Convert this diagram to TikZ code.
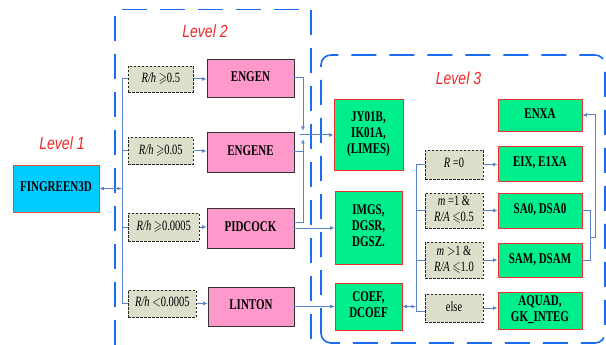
\documentclass[tikz,border=0pt]{standalone}
\usepackage{fontspec}
\usepackage{amssymb}
\setmainfont{Liberation Serif}
\newfontfamily\handfont{Liberation Sans}
\usetikzlibrary{arrows.meta,calc}
\definecolor{cyanfill}{HTML}{00CCFF}
\definecolor{cyanline}{HTML}{E0502A}
\definecolor{pinkfill}{HTML}{FF99CC}
\definecolor{greenfill}{HTML}{00EE8C}
\definecolor{greenline}{HTML}{F03030}
\definecolor{condfill}{HTML}{DCE0CB}
\definecolor{linkblue}{HTML}{5B84C8}
\definecolor{lvblue}{HTML}{1A6CF0}
\definecolor{lvred}{HTML}{F02828}
\newcommand\vs[1]{\scalebox{1}[1.35]{\begin{tabular}{@{}c@{}}#1\end{tabular}}}
\tikzset{
  lv/.style={draw=lvblue, line width=1.6pt, dash pattern=on 25pt off 13pt},
  conn/.style={draw=linkblue, line width=1pt},
  arr/.style={conn, -{Latex[length=4.5pt,width=4pt]}},
  darr/.style={conn, {Latex[length=4.5pt,width=4pt]}-{Latex[length=4.5pt,width=4pt]}},
  cyanbox/.style={draw=cyanline, line width=0.8pt, fill=cyanfill, inner sep=0pt, font=\fontsize{11}{12}\selectfont\bfseries},
  pinkbox/.style={draw=black!80, line width=0.8pt, fill=pinkfill, inner sep=0pt, font=\fontsize{11}{12}\selectfont\bfseries},
  greenbox/.style={draw=greenline, line width=0.8pt, fill=greenfill, inner sep=0pt, font=\fontsize{11}{12}\selectfont\bfseries},
  condbox/.style={draw=black!85, line width=0.7pt, dash pattern=on 2.5pt off 1.5pt, fill=condfill, inner sep=0pt, font=\fontsize{10.5}{12}\selectfont},
  lvtext/.style={text=lvred, font=\handfont\itshape\fontsize{14}{16}\selectfont}
}
\begin{document}
\begin{tikzpicture}[x=1pt,y=-1pt]
\useasboundingbox (0,0) rectangle (606,345);
% level frames
\draw[lv] (115,345) -- (115,9.5) -- (311,9.5) -- (311,345);
\draw[lv, rounded corners=10] (321,343) rectangle (605,55);
\node[lvtext] (lv1) at (62,143) {\scalebox{1}[1.25]{Level 1}};
\node[lvtext] (lv2) at (205,31.5) {\scalebox{1}[1.25]{Level 2}};
\node[lvtext] (lv3) at (458.5,78.5) {\scalebox{1}[1.25]{Level 3}};
% level 1
\node[cyanbox, minimum width=86, minimum height=47] (fin) at (56,188.5) {\vs{FINGREEN3D}};
% level 2 conditions
\node[condbox, minimum width=65, minimum height=26, anchor=west] (c1) at (128,79) {\vs{\textit{R/h} $\geqslant$0.5}};
\node[condbox, minimum width=65, minimum height=27, anchor=west] (c2) at (128,151) {\vs{\textit{R/h} $\geqslant$0.05}};
\node[condbox, minimum width=71, minimum height=28, anchor=west] (c3) at (128,227) {\vs{\textit{R/h} $\geqslant$0.0005}};
\node[condbox, minimum width=68, minimum height=27, anchor=west] (c4) at (128,303.5) {\vs{\textit{R/h} $<$0.0005}};
% level 2 routines
\node[pinkbox, minimum width=87, minimum height=38] (p1) at (250.5,78) {\vs{ENGEN}};
\node[pinkbox, minimum width=87, minimum height=40] (p2) at (250.5,152) {\vs{ENGENE}};
\node[pinkbox, minimum width=87, minimum height=40] (p3) at (250.5,228) {\vs{PIDCOCK}};
\node[pinkbox, minimum width=86, minimum height=39] (p4) at (251,306.5) {\vs{LINTON}};
% level 3 first column
\node[greenbox, minimum width=69, minimum height=71] (g1) at (368.5,134.5) {\vs{JY01B,\\IK01A,\\(LIMES)}};
\node[greenbox, minimum width=67, minimum height=73] (g2) at (368.5,227.5) {\vs{IMGS,\\DGSR,\\DGSZ.}};
\node[greenbox, minimum width=67, minimum height=47] (g3) at (368.5,306.5) {\vs{COEF,\\DCOEF}};
% level 3 conditions
\node[condbox, minimum width=58, minimum height=29] (d1) at (454,164.5) {\vs{\textit{R} =0}};
\node[condbox, minimum width=58, minimum height=35] (d2) at (454,210.5) {\vs{\textit{m} =1 \&\\\textit{R/A} $\leqslant$0.5}};
\node[condbox, minimum width=58, minimum height=36] (d3) at (454,260) {\vs{\textit{m} $>$1 \&\\\textit{R/A} $\leqslant$1.0}};
\node[condbox, minimum width=58, minimum height=28] (d4) at (454,308) {\vs{else}};
% level 3 second column
\node[greenbox, minimum width=84, minimum height=32] (h1) at (540,115) {\vs{ENXA}};
\node[greenbox, minimum width=84, minimum height=35] (h2) at (540,163.5) {\vs{EIX, E1XA}};
\node[greenbox, minimum width=84, minimum height=35] (h3) at (540,210.5) {\vs{SA0, DSA0}};
\node[greenbox, minimum width=84, minimum height=34] (h4) at (540,260) {\vs{SAM, DSAM}};
\node[greenbox, minimum width=84, minimum height=37] (h5) at (540,310.5) {\vs{AQUAD,\\GK\_INTEG}};
% left bus
\coordinate (bt) at (122,79);
\coordinate (bb) at (122,303.5);
\draw[conn] (c1.west) -- (bt) -- (bb) -- (c4.west);
\draw[conn] (c2.west) -- (c2.west -| bt);
\draw[conn] (c3.west) -- (c3.west -| bt);
\draw[darr] (fin.east) -- (fin.east -| bt);
\foreach \i in {1,2,3,4} {\draw[arr] (c\i.east) -- (c\i.east -| p\i.west);}
% junction to JY01B
\coordinate (jx) at (303,135);
\draw[arr] (p1.east) -| ($(jx)+(0,-4)$);
\draw[arr] (p2.east) -| ($(jx)+(0,4)$);
\draw[conn] ($(p3.east)+(0,-6)$) -| (p2.east -| jx);
\draw[arr] ($(jx)+(-3,0)$) -- (jx -| g1.west);
\draw[arr] (p3.east) -- (p3.east -| g2.west);
\draw[arr] (p4.east) -- (p4.east -| g3.west);
% right bus
\coordinate (rt) at (416,164.5);
\coordinate (rb) at (416,311);
\draw[conn] (d1.west) -- (rt) -- (rb) -- (rb -| d4.west);
\draw[conn] (d2.west) -- (d2.west -| rt);
\draw[conn] (d3.west) -- (d3.west -| rt);
\draw[darr] (g3.east) -- (g3.east -| rt);
\draw[arr] (d1.east) -- (d1.east -| h2.west);
\draw[arr] (d2.east) -- (d2.east -| h3.west);
\draw[arr] (d3.east) -- (d3.east -| h4.west);
\draw[arr] (d4.east) -- (d4.east -| h5.west);
% feedback to ENXA
\coordinate (mj) at (590,237);
\draw[conn] (h3.east) -| (mj);
\draw[conn] (h4.east) -| (mj);
\draw[arr] (mj) -- ++(5,0) |- (h1.east);
\end{tikzpicture}
\end{document}
